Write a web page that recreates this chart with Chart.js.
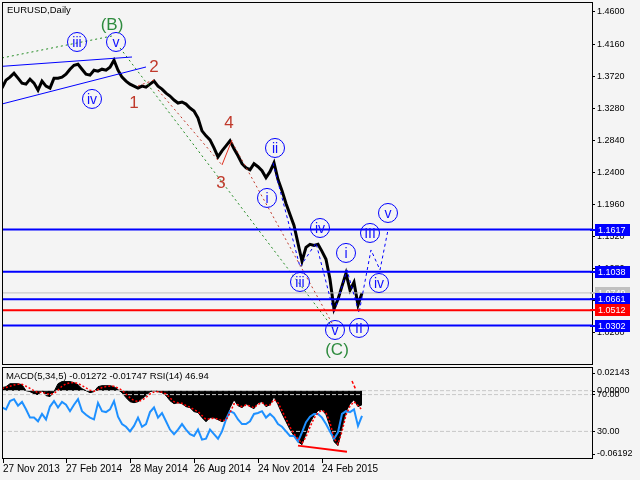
<!DOCTYPE html>
<html>
<head>
<meta charset="utf-8">
<script src="https://cdn.jsdelivr.net/npm/chart.js@4.4.1/dist/chart.umd.min.js"></script>
<style>
  html, body { margin: 0; padding: 0; background: #f4f4f4; }
  #wrap { position: relative; width: 640px; height: 480px; background: #f4f4f4; overflow: hidden; }
  #priceChart { position: absolute; left: 0; top: 0; }
  #oscChart { position: absolute; left: 0; top: 366px; }
</style>
</head>
<body>
<div id="wrap">
  <canvas id="priceChart" width="640" height="366"></canvas>
  <canvas id="oscChart" width="640" height="114"></canvas>
</div>
<script>
// bar index runs 0..590 across the window, one sample every 4 bars
var step = 4;
var lastIndex = 590;

var dateTicks = [1, 64, 128, 192, 256, 320];
var dateLabels = ['27 Nov 2013', '27 Feb 2014', '28 May 2014', '26 Aug 2014', '24 Nov 2014', '24 Feb 2015'];

var priceTicks = [1.46, 1.416, 1.372, 1.328, 1.284, 1.24, 1.196, 1.152, 1.108, 1.064, 1.02];

var closes = [
  1.3557, 1.3666, 1.3707, 1.3761, 1.3693, 1.3625, 1.3611, 1.3679, 1.3625, 1.3529,
  1.3652, 1.3584, 1.3557, 1.3693, 1.3693, 1.3707, 1.3748, 1.3816, 1.3870, 1.3884,
  1.3816, 1.3748, 1.3734, 1.3802, 1.3789, 1.3816, 1.3802, 1.3843, 1.3939, 1.3802,
  1.3707, 1.3652, 1.3611, 1.3584, 1.3557, 1.3584, 1.3570, 1.3611, 1.3652, 1.3584,
  1.3543, 1.3488, 1.3448, 1.3393, 1.3352, 1.3366, 1.3338, 1.3284, 1.3243, 1.3147,
  1.2970, 1.2902, 1.2847, 1.2738, 1.2615, 1.2697, 1.2765, 1.2834, 1.2725, 1.2629,
  1.2520, 1.2465, 1.2438, 1.2520, 1.2479, 1.2424, 1.2329, 1.2411, 1.2533, 1.2302,
  1.2151, 1.1974, 1.1824, 1.1674, 1.1428, 1.1183, 1.1374, 1.1415, 1.1401, 1.1415,
  1.1319, 1.1210, 1.0937, 1.0528, 1.0664, 1.0842, 1.1019, 1.0787, 1.0896, 1.0583,
  1.0749
];

var macdHist = [
  0.0027, 0.0036, 0.0063, 0.0063, 0.0063, 0.0054, 0.0000, -0.0009, -0.0027, -0.0036,
  0.0000, -0.0045, -0.0054, -0.0009, 0.0063, 0.0082, 0.0082, 0.0082, 0.0072, 0.0054,
  0.0018, 0.0000, -0.0018, -0.0009, 0.0036, 0.0045, 0.0045, 0.0045, 0.0036, 0.0009,
  -0.0018, -0.0063, -0.0100, -0.0109, -0.0100, -0.0072, -0.0045, -0.0009, 0.0000, -0.0009,
  -0.0018, -0.0045, -0.0091, -0.0118, -0.0109, -0.0118, -0.0145, -0.0154, -0.0190, -0.0199,
  -0.0245, -0.0281, -0.0245, -0.0245, -0.0263, -0.0281, -0.0263, -0.0154, -0.0082, -0.0136,
  -0.0154, -0.0118, -0.0145, -0.0163, -0.0109, -0.0100, -0.0145, -0.0127, -0.0054, -0.0127,
  -0.0208, -0.0281, -0.0353, -0.0408, -0.0462, -0.0489, -0.0390, -0.0290, -0.0226, -0.0181,
  -0.0172, -0.0217, -0.0326, -0.0462, -0.0498, -0.0335, -0.0190, -0.0118, -0.0082, -0.0145,
  -0.0127
];

var macdSignal = [
  0.0020, 0.0028, 0.0040, 0.0052, 0.0058, 0.0057, 0.0040, 0.0020, 0.0000, -0.0018,
  -0.0014, -0.0025, -0.0036, -0.0025, 0.0005, 0.0040, 0.0062, 0.0072, 0.0074, 0.0066,
  0.0046, 0.0025, 0.0005, -0.0005, 0.0010, 0.0028, 0.0038, 0.0042, 0.0040, 0.0024,
  0.0004, -0.0030, -0.0065, -0.0090, -0.0098, -0.0086, -0.0062, -0.0030, -0.0012, -0.0010,
  -0.0014, -0.0030, -0.0065, -0.0100, -0.0110, -0.0115, -0.0135, -0.0150, -0.0172, -0.0190,
  -0.0225, -0.0260, -0.0255, -0.0250, -0.0258, -0.0272, -0.0268, -0.0200, -0.0120, -0.0128,
  -0.0145, -0.0130, -0.0140, -0.0155, -0.0125, -0.0108, -0.0132, -0.0130, -0.0080, -0.0110,
  -0.0180, -0.0255, -0.0330, -0.0390, -0.0440, -0.0475, -0.0420, -0.0330, -0.0250, -0.0200,
  -0.0178, -0.0200, -0.0290, -0.0430, -0.0485, -0.0370, -0.0220, -0.0140, -0.0100, -0.0135,
  -0.0175
];

var rsi = [
  56, 54, 63, 65, 58, 62, 54, 45, 45, 41,
  49, 43, 57, 63, 56, 62, 59, 52, 59, 65,
  52, 48, 45, 43, 61, 52, 51, 54, 63, 46,
  38, 35, 30, 36, 45, 35, 38, 51, 56, 45,
  50, 41, 32, 27, 32, 38, 32, 27, 25, 32,
  21, 22, 32, 27, 22, 30, 43, 52, 50, 43,
  38, 38, 41, 49, 50, 52, 45, 49, 45, 38,
  35, 30, 25, 25, 19, 29, 40, 46, 49, 49,
  45, 38, 30, 22, 29, 49, 52, 51, 54, 36,
  47
];

var levelPrices = [1.1617, 1.1038, 1.0661, 1.0302];
var stopPrice = 1.0512;
var lastPrice = 1.0749;
var rsiLevels = [70, 30];
var macdAxisLabels = [0.02143, 0, -0.06192];

// wave marks [bar index, price]
var channelTop = [[0, 1.3855], [130, 1.3983]];
var channelBottom = [[0, 1.3339], [144, 1.3846]];
var greenUpper = [[0, 1.3970], [110, 1.4271]];
var greenLower = [[118, 1.4107], [331, 1.0269]];
var red12 = [[136, 1.3586], [152, 1.3668]];
var red23 = [[156, 1.3531], [220, 1.2503]];
var red34 = [[220, 1.2503], [230, 1.2846]];
var red45 = [[230, 1.2818], [331, 1.0310]];
var waveDays = [271, 298, 314, 332, 345, 357, 369, 378, 386];
var wavePrices = [1.2530, 1.1105, 1.1434, 1.0474, 1.1064, 1.0474, 1.1338, 1.1064, 1.1612];

var waveText = ['iii', 'v', 'iv', 'ii', 'i', 'iv', 'iii', 'i', 'v', 'II', 'III', 'iv', 'v'];
var waveDay = [75, 114, 90, 273, 265, 318, 298, 344, 333, 357, 368, 377, 386];
var wavePrice = [1.4189, 1.4189, 1.3408, 1.2736, 1.2051, 1.1639, 1.0899, 1.1297, 1.0241, 1.0269, 1.1571, 1.0885, 1.1845];

var redText = ['1', '2', '3', '4'];
var redDay = [132, 152, 219, 227];
var redPrice = [1.3353, 1.3846, 1.2256, 1.3079];

var greenText = ['(B)', '(C)'];
var greenDay = [110, 335];
var greenPrice = [1.4422, 0.9967];

// oscillator marks [bar index, macd value]
var divergence = [[296, -0.0498], [345, -0.0553]];
var divergenceTop = [[350, 0.0087], [354, 0.0006]];

var days = closes.map(function (c, i) { return i * step; });

function pts(ys) {
  return ys.map(function (v, i) { return { x: days[i], y: v }; });
}
function seg(arr) {
  return arr.map(function (p) { return { x: p[0], y: p[1] }; });
}
function flat(v) {
  return [{ x: 0, y: v }, { x: lastIndex, y: v }];
}

Chart.defaults.font.family = 'Liberation Sans';
Chart.defaults.color = '#000';

var mainDecor = {
  id: 'mainDecor',
  afterDraw: function (chart) {
    var ctx = chart.ctx, a = chart.chartArea;
    var x = chart.scales.x, y = chart.scales.y;
    ctx.save();
    ctx.strokeStyle = '#000';
    ctx.lineWidth = 1;
    ctx.strokeRect(a.left + 0.5, a.top + 0.5, a.right - a.left, a.bottom - a.top - 1);

    ctx.font = '9.5px Liberation Sans';
    ctx.fillStyle = '#000';
    ctx.textBaseline = 'middle';
    ctx.textAlign = 'left';
    ctx.fillText('EURUSD,Daily', a.left + 5, a.top + 8);

    // price boxes on the right scale
    var boxes = [[lastPrice, '#c0c0c0']].concat(levelPrices.map(function (v) { return [v, '#0000ff']; }));
    boxes.push([stopPrice, '#ff0000']);
    ctx.font = '9px Liberation Sans';
    boxes.forEach(function (b) {
      var py = Math.round(y.getPixelForValue(b[0]));
      ctx.fillStyle = b[1];
      ctx.fillRect(a.right - 2, py - 1, 5, 2);
      ctx.fillRect(a.right + 3, py - 6, 35, 12);
      ctx.fillStyle = '#fff';
      ctx.fillText(b[0].toFixed(4), a.right + 6, py + 0.5);
    });

    // circled wave counts
    ctx.beginPath();
    ctx.rect(a.left, a.top, a.right - a.left, a.bottom - a.top);
    ctx.clip();
    ctx.textAlign = 'center';
    ctx.font = '14px Liberation Sans';
    waveText.forEach(function (t, i) {
      var px = x.getPixelForValue(waveDay[i]);
      var py = y.getPixelForValue(wavePrice[i]);
      ctx.strokeStyle = '#0000ff';
      ctx.lineWidth = 1;
      ctx.beginPath();
      ctx.arc(px, py, 9.5, 0, Math.PI * 2);
      ctx.stroke();
      ctx.fillStyle = '#1010ff';
      ctx.fillText(t, px, py + 1);
    });
    ctx.font = '17px Liberation Sans';
    ctx.fillStyle = '#c0392b';
    redText.forEach(function (t, i) {
      ctx.fillText(t, x.getPixelForValue(redDay[i]), y.getPixelForValue(redPrice[i]));
    });
    ctx.fillStyle = '#2e8b3e';
    greenText.forEach(function (t, i) {
      ctx.fillText(t, x.getPixelForValue(greenDay[i]), y.getPixelForValue(greenPrice[i]));
    });
    ctx.restore();
  }
};

var oscDecor = {
  id: 'oscDecor',
  afterDraw: function (chart) {
    var ctx = chart.ctx, a = chart.chartArea;
    var m = chart.scales.macd;
    ctx.save();
    ctx.strokeStyle = '#000';
    ctx.lineWidth = 1;
    ctx.strokeRect(a.left + 0.5, a.top + 0.5, a.right - a.left, a.bottom - a.top - 1);

    ctx.font = '9.5px Liberation Sans';
    ctx.fillStyle = '#000';
    ctx.textBaseline = 'middle';
    ctx.textAlign = 'left';
    ctx.fillText('MACD(5,34,5) -0.01272 -0.01747 RSI(14) 46.94', a.left + 4, a.top + 9);

    ctx.font = '9px Liberation Sans';
    macdAxisLabels.forEach(function (v) {
      var py = Math.min(Math.max(m.getPixelForValue(v), a.top + 6), a.bottom - 5);
      ctx.fillRect(a.right, Math.round(py), 3, 1);
      ctx.fillText(v.toFixed(5), a.right + 5, py);
    });
    ctx.restore();
  }
};

new Chart(document.getElementById('priceChart'), {
  type: 'line',
  data: {
    datasets: [
      { data: pts(closes), borderColor: '#000', borderWidth: 3, order: 5 },
      { data: flat(lastPrice), borderColor: '#c0c0c0', borderWidth: 1, order: 4 },
      { data: seg(channelTop), borderColor: '#0000ff', borderWidth: 1, order: 3 },
      { data: seg(channelBottom), borderColor: '#0000ff', borderWidth: 1, order: 3 },
      { data: seg(greenUpper), borderColor: '#228b22', borderWidth: 1, borderDash: [2, 3], order: 3 },
      { data: seg(greenLower), borderColor: '#228b22', borderWidth: 1, borderDash: [2, 3], order: 3 },
      { data: seg(red12), borderColor: '#c0392b', borderWidth: 1, borderDash: [2, 3], order: 3 },
      { data: seg(red23), borderColor: '#c0392b', borderWidth: 1, borderDash: [2, 3], order: 3 },
      { data: seg(red34), borderColor: '#e03020', borderWidth: 1, order: 3 },
      { data: seg(red45), borderColor: '#c0392b', borderWidth: 1, borderDash: [2, 3], order: 3 },
      { data: waveDays.map(function (d, i) { return { x: d, y: wavePrices[i] }; }),
        borderColor: '#0000ff', borderWidth: 1, borderDash: [3, 3], order: 3 }
    ].concat(levelPrices.map(function (v) {
      return { data: flat(v), borderColor: '#0000ff', borderWidth: 2, order: 1 };
    })).concat([
      { data: flat(stopPrice), borderColor: '#ff0000', borderWidth: 2, order: 1 }
    ])
  },
  options: {
    responsive: false,
    animation: false,
    devicePixelRatio: 1,
    layout: { padding: { left: 2, top: 2, right: 0, bottom: 1 } },
    elements: { point: { radius: 0 }, line: { tension: 0, fill: false } },
    plugins: { legend: { display: false }, tooltip: { enabled: false } },
    scales: {
      x: { type: 'linear', min: 0, max: lastIndex, display: false },
      y: {
        position: 'right',
        min: 0.9761,
        max: 1.4737,
        border: { display: false },
        grid: { drawOnChartArea: false, drawTicks: true, tickLength: 3, color: '#000' },
        ticks: {
          font: { size: 9 },
          padding: 2,
          callback: function (v) { return v.toFixed(4); }
        },
        afterBuildTicks: function (s) {
          s.ticks = priceTicks.map(function (v) { return { value: v }; });
        },
        afterFit: function (s) {
          s.width = 48;
          s.paddingTop = 0;
          s.paddingBottom = 0;
        }
      }
    }
  },
  plugins: [mainDecor]
});

new Chart(document.getElementById('oscChart'), {
  type: 'line',
  data: {
    datasets: [
      { data: pts(macdHist), yAxisID: 'macd', fill: 'origin', backgroundColor: '#000',
        borderColor: '#000', borderWidth: 1, order: 6 },
      { data: flat(0), yAxisID: 'macd', borderColor: '#c8c8c8', borderWidth: 1, borderDash: [4, 2], order: 5 },
      { data: flat(rsiLevels[0]), yAxisID: 'rsi', borderColor: '#c8c8c8', borderWidth: 1, borderDash: [4, 2], order: 5 },
      { data: flat(rsiLevels[1]), yAxisID: 'rsi', borderColor: '#c8c8c8', borderWidth: 1, borderDash: [4, 2], order: 5 },
      { data: pts(rsi), yAxisID: 'rsi', borderColor: '#1e90ff', borderWidth: 2, order: 3 },
      { data: pts(macdSignal), yAxisID: 'macd', borderColor: '#ff0000', borderWidth: 1.5, borderDash: [2, 2], order: 2 },
      { data: seg(divergence), yAxisID: 'macd', borderColor: '#ff0000', borderWidth: 2, order: 1 },
      { data: seg(divergenceTop), yAxisID: 'macd', borderColor: '#ff0000', borderWidth: 1.5, borderDash: [3, 2], order: 1 }
    ]
  },
  options: {
    responsive: false,
    animation: false,
    devicePixelRatio: 1,
    layout: { padding: { left: 2, top: 1, right: 0, bottom: 0 } },
    elements: { point: { radius: 0 }, line: { tension: 0 } },
    plugins: { legend: { display: false }, tooltip: { enabled: false } },
    scales: {
      x: {
        type: 'linear',
        min: 0,
        max: lastIndex,
        border: { display: false },
        grid: { drawOnChartArea: false, drawTicks: true, tickLength: 4, color: '#000' },
        ticks: {
          font: { size: 10 },
          align: 'start',
          padding: 0,
          maxRotation: 0,
          autoSkip: false,
          callback: function (v, i) { return dateLabels[i]; }
        },
        afterBuildTicks: function (s) {
          s.ticks = dateTicks.map(function (v) { return { value: v }; });
        },
        afterFit: function (s) {
          s.height = 21;
          s.paddingLeft = 0;
          s.paddingRight = 0;
        }
      },
      rsi: {
        position: 'right',
        min: 0,
        max: 100,
        border: { display: false },
        grid: { drawOnChartArea: false, drawTicks: true, tickLength: 3, color: '#000' },
        ticks: {
          font: { size: 9 },
          padding: 2,
          callback: function (v) { return v.toFixed(2); }
        },
        afterBuildTicks: function (s) {
          s.ticks = rsiLevels.map(function (v) { return { value: v }; });
        },
        afterFit: function (s) {
          s.width = 48;
          s.paddingTop = 0;
          s.paddingBottom = 0;
        }
      },
      macd: {
        position: 'right',
        display: false,
        min: -0.06192,
        max: 0.02143
      }
    }
  },
  plugins: [oscDecor]
});
</script>
</body>
</html>
